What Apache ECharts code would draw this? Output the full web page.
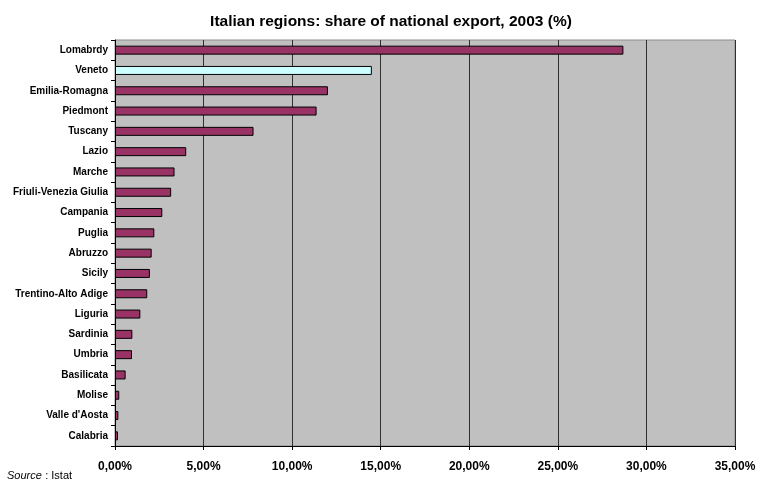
<!DOCTYPE html>
<html>
<head>
<meta charset="utf-8">
<script src="https://cdn.jsdelivr.net/npm/echarts@6/dist/echarts.min.js"></script>
<style>
  html, body { margin: 0; padding: 0; background: #ffffff; }
  #chart { width: 767px; height: 479px; }
</style>
</head>
<body>
<div id="chart"></div>
<script>
// Regions, top to bottom
const regions = [
  'Lomabrdy', 'Veneto', 'Emilia-Romagna', 'Piedmont', 'Tuscany', 'Lazio',
  'Marche', 'Friuli-Venezia Giulia', 'Campania', 'Puglia', 'Abruzzo',
  'Sicily', 'Trentino-Alto Adige', 'Liguria', 'Sardinia', 'Umbria',
  'Basilicata', 'Molise', "Valle d'Aosta", 'Calabria'
];
// Share of national export, 2003 (%)
const exportShare = [
  28.70, 14.50, 12.02, 11.38, 7.82, 4.02,
  3.36, 3.17, 2.67, 2.22, 2.07,
  1.97, 1.82, 1.43, 0.98, 0.96,
  0.60, 0.24, 0.19, 0.17
];
const highlighted = 'Veneto';
const xTicks = [0, 5, 10, 15, 20, 25, 30, 35];

const font = 'Arial, "Liberation Sans", sans-serif';
const chart = echarts.init(document.getElementById('chart'), null, { renderer: 'canvas' });

chart.setOption({
  animation: false,
  backgroundColor: '#ffffff',
  title: {
    text: 'Italian regions: share of national export, 2003 (%)',
    left: 386, top: 9, textAlign: 'center',
    textStyle: { fontFamily: font, fontSize: 15.5, fontWeight: 'bold', color: '#000' }
  },
  graphic: [{
    type: 'text', left: 7, top: 470,
    style: {
      rich: {
        i: { fontFamily: font, fontSize: 11, fontStyle: 'italic', fill: '#000' },
        n: { fontFamily: font, fontSize: 11, fill: '#000' }
      },
      text: '{i|Source} {n|: Istat}'
    }
  }],
  grid: {
    left: 115, right: 32, top: 40, bottom: 33,
    show: true, backgroundColor: '#c0c0c0', borderColor: '#8c8c8c', borderWidth: 1
  },
  xAxis: {
    type: 'value', min: xTicks[0], max: xTicks[xTicks.length - 1], interval: 5,
    axisLine: { show: true, lineStyle: { color: '#000', width: 1 } },
    axisTick: { show: true, length: 4, lineStyle: { color: '#000' } },
    splitLine: { show: true, lineStyle: { color: '#303030', width: 1 } },
    axisLabel: {
      margin: 15, fontFamily: font, fontSize: 12, fontWeight: 'bold', color: '#000',
      formatter: v => v.toFixed(2).replace('.', ',') + '%'
    }
  },
  yAxis: {
    type: 'category', data: regions, inverse: true,
    axisLine: { show: true, lineStyle: { color: '#000', width: 1 } },
    axisTick: { show: true, length: 4, lineStyle: { color: '#000' } },
    axisLabel: { margin: 7, fontFamily: font, fontSize: 10, fontWeight: 'bold', color: '#000' }
  },
  series: [{
    type: 'bar',
    data: exportShare.map((v, i) => ({
      value: v,
      itemStyle: { color: regions[i] === highlighted ? '#ccffff' : '#993366' }
    })),
    barWidth: 9,
    itemStyle: { borderColor: '#000', borderWidth: 1 }
  }]
});
</script>
</body>
</html>
